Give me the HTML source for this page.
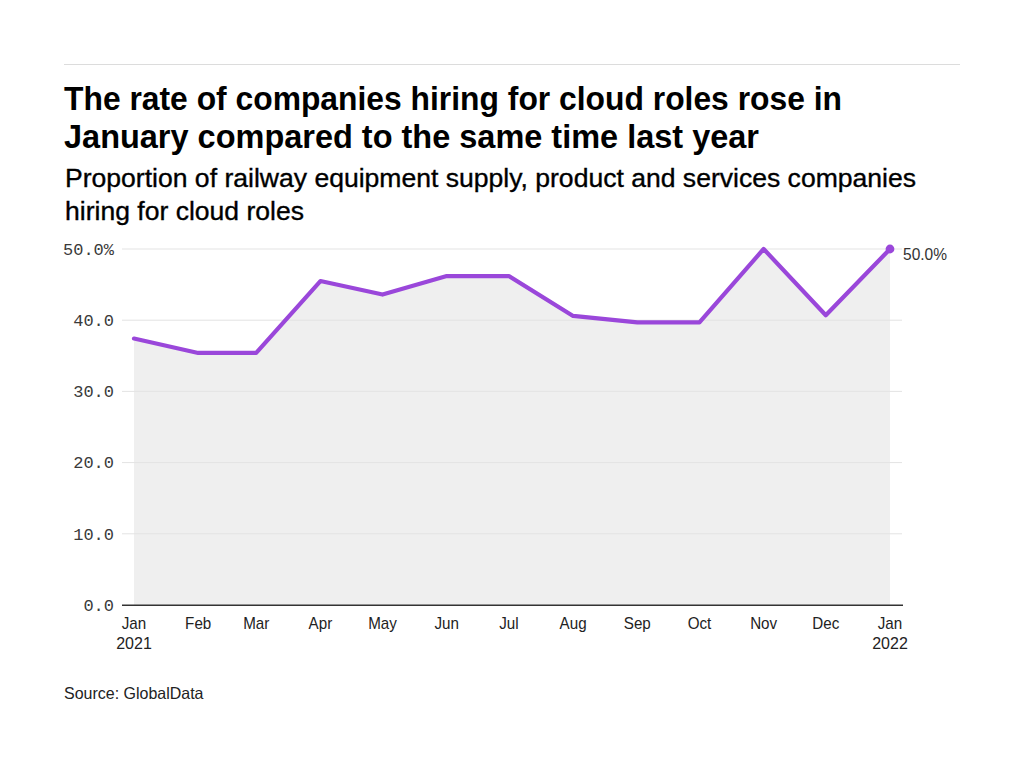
<!DOCTYPE html>
<html><head><meta charset="utf-8"><style>
html,body{margin:0;padding:0;background:#fff;width:1024px;height:768px;overflow:hidden}
svg{display:block}
text{font-family:"Liberation Sans",sans-serif}
.t{font-size:33px;font-weight:700;fill:#000}
.s{font-size:26px;font-weight:400;fill:#000;stroke:#000;stroke-width:0.35px}
.mono{font-family:"Liberation Mono",monospace;font-size:17px;fill:#3a3a3a}
.xl{font-size:16px;fill:#222}
.src{font-size:16.5px;fill:#222}
.el{font-size:16.5px;fill:#333}
</style></head><body>
<svg width="1024" height="768" viewBox="0 0 1024 768">
<rect width="1024" height="768" fill="#fff"/>
<rect x="64" y="64" width="896" height="1" fill="#dcdcdc"/>
<text x="64" y="110" class="t" textLength="778" lengthAdjust="spacingAndGlyphs">The rate of companies hiring for cloud roles rose in</text>
<text x="64" y="148" class="t" textLength="695" lengthAdjust="spacingAndGlyphs">January compared to the same time last year</text>
<text x="65" y="187" class="s" textLength="851" lengthAdjust="spacingAndGlyphs">Proportion of railway equipment supply, product and services companies</text>
<text x="65" y="220" class="s" textLength="239" lengthAdjust="spacingAndGlyphs">hiring for cloud roles</text>
<path d="M134.00,338.57 L198.21,352.95 L256.20,352.95 L320.41,281.04 L382.55,294.57 L446.76,276.06 L508.89,276.06 L573.10,315.93 L637.31,322.34 L699.45,322.34 L763.65,249.00 L825.79,315.22 L890.00,249.00 L890.0,605 L134.0,605 Z" fill="#efefef"/>
<line x1="122" x2="902" y1="533.80" y2="533.80" stroke="#e3e3e3" stroke-width="1"/>
<line x1="122" x2="902" y1="462.60" y2="462.60" stroke="#e3e3e3" stroke-width="1"/>
<line x1="122" x2="902" y1="391.40" y2="391.40" stroke="#e3e3e3" stroke-width="1"/>
<line x1="122" x2="902" y1="320.20" y2="320.20" stroke="#e3e3e3" stroke-width="1"/>
<line x1="122" x2="902" y1="249.00" y2="249.00" stroke="#e3e3e3" stroke-width="1"/>

<path d="M134.00,338.57 L198.21,352.95 L256.20,352.95 L320.41,281.04 L382.55,294.57 L446.76,276.06 L508.89,276.06 L573.10,315.93 L637.31,322.34 L699.45,322.34 L763.65,249.00 L825.79,315.22 L890.00,249.00" fill="none" stroke="#9a47da" stroke-width="4.2" stroke-linejoin="round" stroke-linecap="round"/>
<circle cx="890.0" cy="249.00" r="4.4" fill="#9a47da"/>
<line x1="122" x2="903" y1="605.25" y2="605.25" stroke="#333" stroke-width="1.5"/>
<text x="114" y="610.80" text-anchor="end" class="mono">0.0</text>
<text x="114" y="539.60" text-anchor="end" class="mono">10.0</text>
<text x="114" y="468.40" text-anchor="end" class="mono">20.0</text>
<text x="114" y="397.20" text-anchor="end" class="mono">30.0</text>
<text x="114" y="326.00" text-anchor="end" class="mono">40.0</text>
<text x="114" y="254.80" text-anchor="end" class="mono">50.0%</text>

<g transform="translate(134.00,628.5) scale(0.95,1)"><text x="0" y="0" text-anchor="middle" class="xl">Jan</text></g>
<g transform="translate(198.21,628.5) scale(0.95,1)"><text x="0" y="0" text-anchor="middle" class="xl">Feb</text></g>
<g transform="translate(256.20,628.5) scale(0.95,1)"><text x="0" y="0" text-anchor="middle" class="xl">Mar</text></g>
<g transform="translate(320.41,628.5) scale(0.95,1)"><text x="0" y="0" text-anchor="middle" class="xl">Apr</text></g>
<g transform="translate(382.55,628.5) scale(0.95,1)"><text x="0" y="0" text-anchor="middle" class="xl">May</text></g>
<g transform="translate(446.76,628.5) scale(0.95,1)"><text x="0" y="0" text-anchor="middle" class="xl">Jun</text></g>
<g transform="translate(508.89,628.5) scale(0.95,1)"><text x="0" y="0" text-anchor="middle" class="xl">Jul</text></g>
<g transform="translate(573.10,628.5) scale(0.95,1)"><text x="0" y="0" text-anchor="middle" class="xl">Aug</text></g>
<g transform="translate(637.31,628.5) scale(0.95,1)"><text x="0" y="0" text-anchor="middle" class="xl">Sep</text></g>
<g transform="translate(699.45,628.5) scale(0.95,1)"><text x="0" y="0" text-anchor="middle" class="xl">Oct</text></g>
<g transform="translate(763.65,628.5) scale(0.95,1)"><text x="0" y="0" text-anchor="middle" class="xl">Nov</text></g>
<g transform="translate(825.79,628.5) scale(0.95,1)"><text x="0" y="0" text-anchor="middle" class="xl">Dec</text></g>
<g transform="translate(890.00,628.5) scale(0.95,1)"><text x="0" y="0" text-anchor="middle" class="xl">Jan</text></g>
<text x="134" y="649" text-anchor="middle" class="xl">2021</text>
<text x="890" y="649" text-anchor="middle" class="xl">2022</text>

<text x="903" y="260" class="el" textLength="44" lengthAdjust="spacingAndGlyphs">50.0%</text>
<text x="64" y="699" class="src" textLength="139.5" lengthAdjust="spacingAndGlyphs">Source: GlobalData</text>
</svg>
</body></html>
